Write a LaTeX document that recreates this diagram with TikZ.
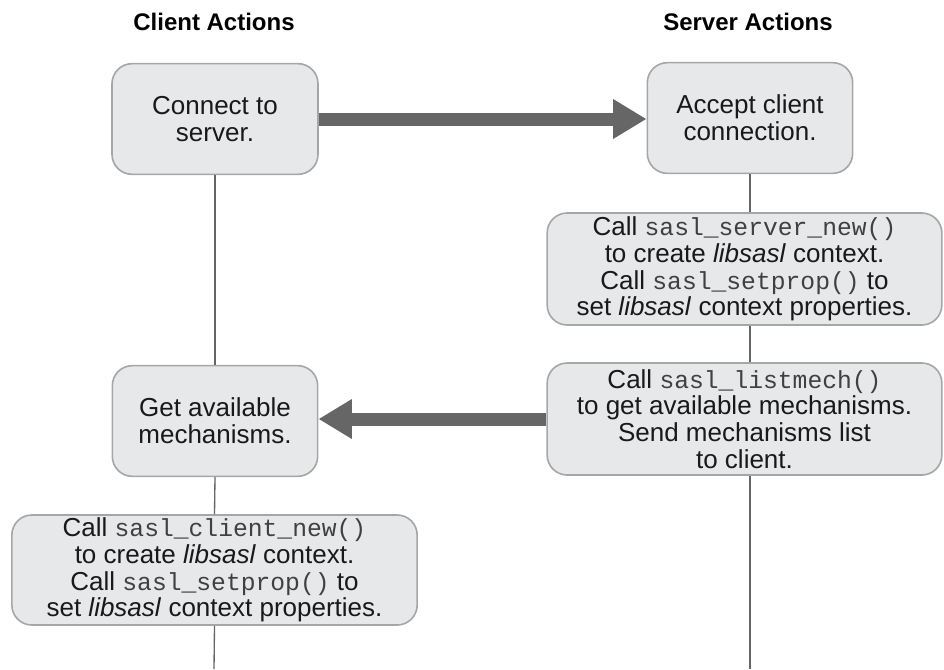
\documentclass[tikz,border=0pt]{standalone}
\usepackage{fontspec}
\setmainfont{Liberation Sans}
\setmonofont{Liberation Mono}
\usetikzlibrary{arrows.meta, positioning, calc}
\definecolor{boxgray}{HTML}{E7E8EA}
\definecolor{edgegray}{HTML}{A6A6A6}
\definecolor{arrowgray}{HTML}{666666}
\newcommand{\apicall}[1]{{\fontsize{18.5}{20}\selectfont\ttfamily\color{black!75}#1}}

\begin{document}
\begin{tikzpicture}[x=0.75pt, y=-0.75pt,
  action/.style={rectangle, draw=edgegray, fill=boxgray, line width=1.2pt, rounded corners=15pt, align=center, inner sep=0pt, font=\fontsize{19.5}{20}\selectfont, text=black!90},
  heading/.style={font=\fontsize{18}{20}\selectfont\bfseries},
  msg/.style={-{Triangle[length=25pt, width=28pt]}, line width=9.75pt, draw=arrowgray},
  lifeline/.style={draw=black!60, line width=1pt}
]
  \useasboundingbox (0,0) rectangle (944,669);

  % Column headings
  \node[heading] (clienthead) at (214,22) {Client Actions};
  \node[heading] (serverhead) at (748,22) {Server Actions};

  % Client side
  \node[action, minimum width=154.5pt, minimum height=83pt] (connect) at (215,119) {Connect to\\server.};
  \node[action, minimum width=154pt, minimum height=83pt] (getmech) at (215,421) {Get available\\mechanisms.};
  \node[action, minimum width=304pt, minimum height=82.5pt] (clientnew) at (214.5,570) {Call \apicall{sasl\_client\_new()}\\to create \textit{libsasl} context.\\Call \apicall{sasl\_setprop()} to\\set \textit{libsasl} context properties.};

  % Server side
  \node[action, minimum width=154pt, minimum height=83pt] (accept) at (750,118) {Accept client\\connection.};
  \node[action, minimum width=296pt, minimum height=84pt] (servernew) at (744.5,269) {Call \apicall{sasl\_server\_new()}\\to create \textit{libsasl} context.\\Call \apicall{sasl\_setprop()} to\\set \textit{libsasl} context properties.};
  \node[action, minimum width=296pt, minimum height=84pt] (listmech) at (744.5,419) {Call \apicall{sasl\_listmech()}\\to get available mechanisms.\\Send mechanisms list\\to client.};

  \coordinate (clientend) at (214,669);
  \coordinate (serverend) at (750,669);

  % Lifelines
  \draw[lifeline] (connect.south) -- (getmech.north);
  \draw[lifeline] (getmech.south) -- (clientnew.north);
  \draw[lifeline] (clientnew.south) -- (clientend);
  \draw[lifeline] (accept.south) -- (accept.south |- servernew.north);
  \draw[lifeline] (accept.south |- servernew.south) -- (accept.south |- listmech.north);
  \draw[lifeline] (accept.south |- listmech.south) -- (serverend);

  % Messages
  \draw[msg] (connect.east) -- (connect.east -| accept.west);
  \draw[msg] (listmech.west) -- (listmech.west -| getmech.east);
\end{tikzpicture}
\end{document}
